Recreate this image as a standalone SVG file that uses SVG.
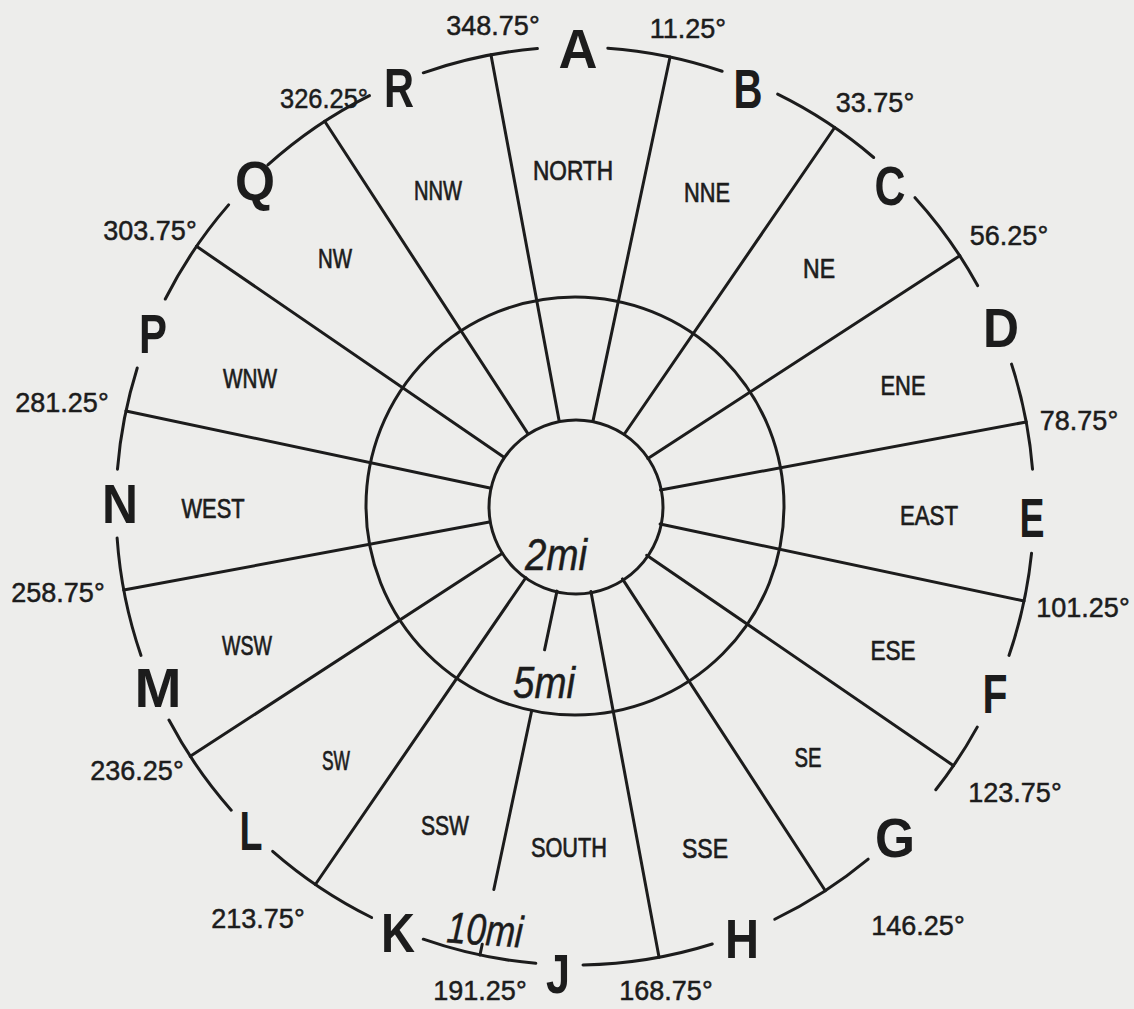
<svg xmlns="http://www.w3.org/2000/svg" width="1134" height="1009" viewBox="0 0 1134 1009">
<style>
.ln{stroke:#1c1c1c;stroke-width:3;fill:none;stroke-linecap:round}
.let{font-family:"Liberation Sans",Arial,sans-serif;font-weight:bold;font-size:56px;fill:#1c1c1c;text-anchor:middle}
.deg{font-family:"Liberation Sans",Arial,sans-serif;font-size:27px;fill:#1c1c1c;stroke:#1c1c1c;stroke-width:0.5;text-anchor:middle}
.sec{font-family:"Liberation Sans",Arial,sans-serif;font-size:27px;fill:#1c1c1c;stroke:#1c1c1c;stroke-width:0.7;text-anchor:middle}
.mi{font-family:"Liberation Sans",Arial,sans-serif;font-style:italic;font-size:44px;fill:#1c1c1c;stroke:#1c1c1c;stroke-width:0.5}
</style>
<rect x="0" y="0" width="1134" height="1009" fill="#ededeb"/>
<g id="circles" class="ln">
<circle cx="576" cy="507" r="87"/>
<circle cx="575" cy="506" r="209"/>
</g>
<g id="connectors" class="ln" transform="rotate(0.7 575 506)">
<line x1="591.97" y1="420.67" x2="664.55" y2="55.82"/>
<line x1="623.33" y1="433.66" x2="830.01" y2="124.36"/>
<line x1="647.34" y1="457.67" x2="956.64" y2="250.99"/>
<line x1="660.33" y1="489.03" x2="1025.18" y2="416.45"/>
<line x1="660.33" y1="522.97" x2="1025.18" y2="595.55"/>
<line x1="647.34" y1="554.33" x2="956.64" y2="761.01"/>
<line x1="623.33" y1="578.34" x2="830.01" y2="887.64"/>
<line x1="591.97" y1="591.33" x2="664.55" y2="956.18"/>
<line x1="558.03" y1="591.33" x2="546.32" y2="650.18"/>
<line x1="534.23" y1="710.99" x2="498.53" y2="890.43"/>
<line x1="487.60" y1="945.39" x2="485.45" y2="956.18"/>
<line x1="526.67" y1="578.34" x2="319.99" y2="887.64"/>
<line x1="502.66" y1="554.33" x2="193.36" y2="761.01"/>
<line x1="489.67" y1="522.97" x2="124.82" y2="595.55"/>
<line x1="489.67" y1="489.03" x2="124.82" y2="416.45"/>
<line x1="502.66" y1="457.67" x2="193.36" y2="250.99"/>
<line x1="526.67" y1="433.66" x2="319.99" y2="124.36"/>
<line x1="558.03" y1="420.67" x2="485.45" y2="55.82"/>
</g>
<g id="outer-arcs" class="ln">
<path d="M607.82 48.18 A459 459 0 0 1 722.17 71.23"/>
<path d="M777.65 94.16 A459 459 0 0 1 873.70 157.49"/>
<path d="M915.03 197.68 A459 459 0 0 1 977.61 285.58"/>
<path d="M1011.54 364.16 A459 459 0 0 1 1032.52 469.19"/>
<path d="M1031.57 553.18 A459 459 0 0 1 1009.0 655.44"/>
<path d="M977.23 727.12 A459 459 0 0 1 935.79 789.73"/>
<path d="M868.20 859.15 A459 459 0 0 1 774.77 919.24"/>
<path d="M712.26 944.0 A459 459 0 0 1 583.01 964.93"/>
<path d="M535.79 963.32 A459 459 0 0 1 423.30 939.20"/>
<path d="M371.63 917.49 A459 459 0 0 1 272.66 851.36"/>
<path d="M231.23 810.14 A459 459 0 0 1 168.98 720.07"/>
<path d="M141.0 655.44 A459 459 0 0 1 117.12 538.02"/>
<path d="M117.48 469.19 A459 459 0 0 1 137.24 367.97"/>
<path d="M165.30 299.05 A459 459 0 0 1 228.59 204.87"/>
<path d="M267.87 164.90 A459 459 0 0 1 369.48 95.59"/>
<path d="M423.30 72.80 A459 459 0 0 1 537.39 48.54"/>
</g>
<g id="letters">
<text id="A" class="let" x="578" y="68" textLength="39" lengthAdjust="spacingAndGlyphs">A</text>
<text id="B" class="let" x="748" y="108" textLength="29" lengthAdjust="spacingAndGlyphs">B</text>
<text id="C" class="let" x="890" y="205" textLength="31" lengthAdjust="spacingAndGlyphs">C</text>
<text id="D" class="let" x="1001" y="347" textLength="36" lengthAdjust="spacingAndGlyphs">D</text>
<text id="E" class="let" x="1032" y="537" textLength="25" lengthAdjust="spacingAndGlyphs">E</text>
<text id="F" class="let" x="995" y="713" textLength="25" lengthAdjust="spacingAndGlyphs">F</text>
<text id="G" class="let" x="895" y="857" textLength="40" lengthAdjust="spacingAndGlyphs">G</text>
<text id="H" class="let" x="742" y="958" textLength="34" lengthAdjust="spacingAndGlyphs">H</text>
<text id="J" class="let" x="558" y="993" textLength="24" lengthAdjust="spacingAndGlyphs">J</text>
<text id="K" class="let" x="398" y="952" textLength="34" lengthAdjust="spacingAndGlyphs">K</text>
<text id="L" class="let" x="251" y="850" textLength="23" lengthAdjust="spacingAndGlyphs">L</text>
<text id="M" class="let" x="158" y="707" textLength="47" lengthAdjust="spacingAndGlyphs">M</text>
<text id="N" class="let" x="120" y="523" textLength="36" lengthAdjust="spacingAndGlyphs">N</text>
<text id="P" class="let" x="153" y="353" textLength="28" lengthAdjust="spacingAndGlyphs">P</text>
<text id="Q" class="let" x="255" y="200" textLength="40" lengthAdjust="spacingAndGlyphs">Q</text>
<text id="R" class="let" x="399" y="107" textLength="30" lengthAdjust="spacingAndGlyphs">R</text>
</g>
<g id="angles">
<text class="deg" x="493" y="35">348.75°</text>
<text class="deg" x="688" y="38">11.25°</text>
<text class="deg" x="875" y="112">33.75°</text>
<text class="deg" x="1009" y="245">56.25°</text>
<text class="deg" x="1079" y="430">78.75°</text>
<text class="deg" x="1083" y="617">101.25°</text>
<text class="deg" x="1015" y="802">123.75°</text>
<text class="deg" x="918" y="935">146.25°</text>
<text class="deg" x="666" y="1000">168.75°</text>
<text class="deg" x="480" y="1000">191.25°</text>
<text class="deg" x="258" y="928">213.75°</text>
<text class="deg" x="137" y="780">236.25°</text>
<text class="deg" x="58" y="602">258.75°</text>
<text class="deg" x="62" y="412">281.25°</text>
<text class="deg" x="150" y="240">303.75°</text>
<text class="deg" x="324" y="108" textLength="88" lengthAdjust="spacingAndGlyphs">326.25°</text>
</g>
<g id="sectors">
<text class="sec" x="573" y="180" textLength="80" lengthAdjust="spacingAndGlyphs">NORTH</text>
<text class="sec" x="707" y="202" textLength="46" lengthAdjust="spacingAndGlyphs">NNE</text>
<text class="sec" x="819" y="278" textLength="32" lengthAdjust="spacingAndGlyphs">NE</text>
<text class="sec" x="903" y="395" textLength="45" lengthAdjust="spacingAndGlyphs">ENE</text>
<text class="sec" x="929" y="525" textLength="58" lengthAdjust="spacingAndGlyphs">EAST</text>
<text class="sec" x="893" y="660" textLength="45" lengthAdjust="spacingAndGlyphs">ESE</text>
<text class="sec" x="808" y="767" textLength="27" lengthAdjust="spacingAndGlyphs">SE</text>
<text class="sec" x="705" y="858" textLength="46" lengthAdjust="spacingAndGlyphs">SSE</text>
<text class="sec" x="569" y="857" textLength="76" lengthAdjust="spacingAndGlyphs">SOUTH</text>
<text class="sec" x="445" y="835" textLength="48" lengthAdjust="spacingAndGlyphs">SSW</text>
<text class="sec" x="336" y="770" textLength="28" lengthAdjust="spacingAndGlyphs">SW</text>
<text class="sec" x="247" y="655" textLength="50" lengthAdjust="spacingAndGlyphs">WSW</text>
<text class="sec" x="213" y="518" textLength="63" lengthAdjust="spacingAndGlyphs">WEST</text>
<text class="sec" x="250" y="388" textLength="54" lengthAdjust="spacingAndGlyphs">WNW</text>
<text class="sec" x="335" y="268" textLength="34" lengthAdjust="spacingAndGlyphs">NW</text>
<text class="sec" x="438" y="200" textLength="48" lengthAdjust="spacingAndGlyphs">NNW</text>
</g>
<g id="distances">
<text class="mi" x="525" y="570" textLength="62" lengthAdjust="spacingAndGlyphs">2mi</text>
<text class="mi" x="513" y="698" textLength="62" lengthAdjust="spacingAndGlyphs">5mi</text>
<text class="mi" x="447" y="945" font-size="47" textLength="76" lengthAdjust="spacingAndGlyphs" transform="rotate(4 485 930)">10mi</text>
</g>
</svg>
